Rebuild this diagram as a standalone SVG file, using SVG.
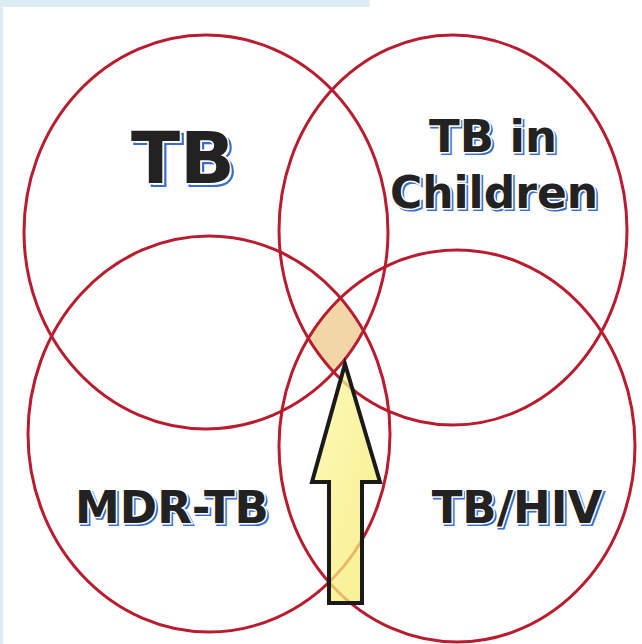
<svg xmlns="http://www.w3.org/2000/svg" width="642" height="644" viewBox="0 0 642 644">
<style>
.ring{fill:none;stroke:#b81c2e;stroke-width:3}
.lbl{font-family:"DejaVu Sans","Liberation Sans",sans-serif;font-weight:bold;text-anchor:middle}
.sh{fill:#ffffff;stroke:#3a6ccc;stroke-width:2.2}
.fg{fill:#222222;stroke:#ffffff;stroke-width:3;paint-order:stroke}
</style>
<defs>
<clipPath id="cA"><ellipse cx="206" cy="232" rx="182" ry="197"/></clipPath>
<clipPath id="cB"><ellipse cx="453" cy="230" rx="174" ry="195"/></clipPath>
<clipPath id="cC"><ellipse cx="209" cy="434" rx="181" ry="198"/></clipPath>
<clipPath id="cD"><ellipse cx="457" cy="446" rx="178" ry="196"/></clipPath>
<linearGradient id="yel" x1="0" y1="0" x2="1" y2="1">
<stop offset="0" stop-color="#fbf8a0"/>
<stop offset="1" stop-color="#f6ea6a"/>
</linearGradient>
</defs>
<rect width="642" height="644" fill="#ffffff"/>
<rect x="0" y="0" width="370" height="7" fill="#dcecf2"/>
<rect x="0" y="0" width="3" height="644" fill="#dcecf2"/>
<g id="overlap">
<g clip-path="url(#cA)"><g clip-path="url(#cB)"><g clip-path="url(#cC)"><g clip-path="url(#cD)">
<rect x="0" y="0" width="642" height="644" fill="#f3d6a8"/>
</g></g></g></g>
</g>
<g id="tb">
<ellipse class="ring" cx="206" cy="232" rx="182" ry="197"/>
<text class="lbl sh" x="186" y="186" font-size="72">TB</text>
<text class="lbl fg" x="183" y="183" font-size="72">TB</text>
</g>
<g id="tb-children">
<ellipse class="ring" cx="453" cy="230" rx="174" ry="195"/>
<text class="lbl sh" x="495" y="154" font-size="45">TB in</text>
<text class="lbl fg" x="493" y="152" font-size="45">TB in</text>
<text class="lbl sh" x="496" y="210" font-size="44">Children</text>
<text class="lbl fg" x="494" y="208" font-size="44">Children</text>
</g>
<g id="mdr-tb">
<ellipse class="ring" cx="209" cy="434" rx="181" ry="198"/>
<text class="lbl sh" x="174" y="525" font-size="45">MDR-TB</text>
<text class="lbl fg" x="172" y="523" font-size="45">MDR-TB</text>
</g>
<g id="tb-hiv">
<ellipse class="ring" cx="457" cy="446" rx="178" ry="196"/>
<text class="lbl sh" x="519" y="525" font-size="45">TB/HIV</text>
<text class="lbl fg" x="517" y="523" font-size="45">TB/HIV</text>
</g>
<g id="arrow">
<polygon points="345,364 380,482 362,482 362,603 329,603 329,482 312,482" fill="url(#yel)" fill-opacity="0.75" stroke="#1a1a1a" stroke-width="4" stroke-linejoin="miter"/>
</g>
</svg>
